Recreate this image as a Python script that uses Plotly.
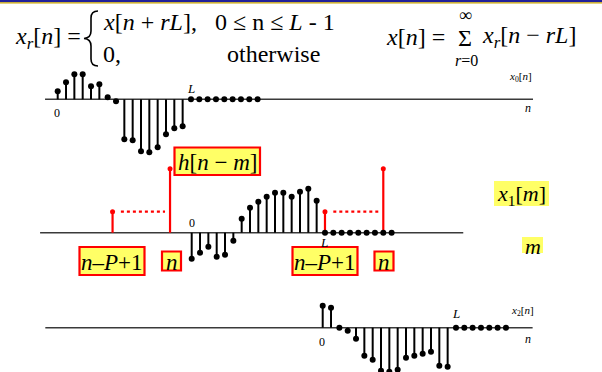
import plotly.graph_objects as go

# ---------------- data ----------------
L = 16
n_x0 = list(range(25))
x0_vals = [8, 17, 25, 25, 13, 15, 2, -2, -40, -41, -52, -53, -48, -35, -29, -27] + [0] * 9
n_x1 = list(range(25))
x1_vals = [-26, -20, -14, -24, -22, -8, 14, 25, 31, 36, 40, 40, 36, 41, 44, 32] + [0] * 9
n_x2 = list(range(23))
x2_vals = [22, 20, 0, -3, -11, -28, -32, -43, -44, -42, -30, -28, -26, -24, -38, -39] + [0] * 7
# window h[n-m]: positions (n-P+1, n) for the two placements, heights
win_left = [-9.5, -2.6]
win_right = [16, 23]
win_heights = [21, 64]

W, H = 602, 372
DX = 8.33  # px per sample
# row origins in pixel coordinates (x of n=0, y of axis)
rows = {
    2: (57.7, 99.3),
    3: (191.7, 232.7),
    4: (322.7, 327.7),
}

fig = go.Figure()
BLACK = "#000000"
RED = "#ff0000"
AX = "#3a3a3a"


def stem_traces(ns, vals, ax, color, lw=2, ms=6):
    xs, ys = [], []
    for n, v in zip(ns, vals):
        xs += [n, n, None]
        ys += [0, v, None]
    xa, ya = ("x%d" % ax, "y%d" % ax)
    fig.add_trace(go.Scatter(x=xs, y=ys, mode="lines", line=dict(color=color, width=lw),
                             xaxis=xa, yaxis=ya, hoverinfo="skip", showlegend=False))
    fig.add_trace(go.Scatter(x=ns, y=vals, mode="markers", marker=dict(color=color, size=ms),
                             xaxis=xa, yaxis=ya, hoverinfo="skip", showlegend=False))


def axis_line(ax, a, b):
    fig.add_trace(go.Scatter(x=[a, b], y=[0, 0], mode="lines", line=dict(color=AX, width=1.5),
                             xaxis="x%d" % ax, yaxis="y%d" % ax, hoverinfo="skip", showlegend=False))


# axes lines
axis_line(2, -1.52, 57.06)
axis_line(3, -18.2, 32.6)
axis_line(4, -33.3, 25.2)

# red windows in row 2
for pos in (win_left, win_right):
    stem_traces(pos, win_heights, 3, RED, lw=2.2, ms=5)
    fig.add_trace(go.Scatter(x=[pos[0] + 1.0, pos[1] - 0.6], y=[win_heights[0]] * 2, mode="lines",
                             line=dict(color=RED, width=2.2, dash="dot"),
                             xaxis="x3", yaxis="y3", hoverinfo="skip", showlegend=False))

stem_traces(n_x0, x0_vals, 2, BLACK)
stem_traces(n_x1, x1_vals, 3, BLACK)
stem_traces(n_x2, x2_vals, 4, BLACK)

# layout axes
layout = dict(
    width=W, height=H, margin=dict(l=0, r=0, t=0, b=0),
    paper_bgcolor="white", plot_bgcolor="white",
    xaxis=dict(range=[0, W], visible=False, fixedrange=True),
    yaxis=dict(range=[H, 0], visible=False, fixedrange=True),
)
for k, (ox, oy) in rows.items():
    layout["xaxis%d" % k] = dict(range=[-ox / DX, (W - ox) / DX], overlaying="x", visible=False)
    layout["yaxis%d" % k] = dict(range=[-(H - oy), oy], overlaying="y", visible=False)
fig.update_layout(**layout)

SERIF = "Liberation Serif"

# top border
fig.add_shape(type="rect", x0=0, x1=W, y0=0, y1=2.2, fillcolor="#20209a", line_width=0, layer="above")
fig.add_shape(type="rect", x0=0, x1=W, y0=2.2, y1=3.6, fillcolor="#c8a400", line_width=0, layer="above")

# curly brace of the cases equation
fig.add_shape(type="path", xref="x", yref="y",
              path="M 98 11 Q 91 11 91 18 L 91 31 Q 91 38 84 38.5 Q 91 39 91 46 L 91 59 Q 91 66 98 66",
              line=dict(color=BLACK, width=1.6))


def txt(x, y, s, size, xanchor="left", yanchor="middle", color=BLACK):
    fig.add_annotation(x=x, y=y, xref="x", yref="y", text=s, showarrow=False,
                       xanchor=xanchor, yanchor=yanchor,
                       font=dict(family=SERIF, size=size, color=color))


# equations
txt(13, 38, "<i>x</i><sub><i>r</i></sub>[<i>n</i>] =", 24)
txt(101, 22, "<i>x</i>[<i>n</i> + <i>rL</i>],", 24)
txt(337, 22, "0 ≤ n ≤ <i>L</i> - 1", 24, xanchor="right")
txt(101, 54, "0,", 24)
txt(322, 54, "otherwise", 24, xanchor="right")
txt(384, 37, "<i>x</i>[<i>n</i>] =", 24)
txt(465, 38, "Σ", 24, xanchor="center")
txt(465, 15, "∞", 18, xanchor="center")
txt(466, 60, "<i>r</i>=0", 16, xanchor="center")
txt(480, 37, "<i>x</i><sub><i>r</i></sub>[<i>n</i> − <i>rL</i>]", 24)

# small labels row 1
txt(57, 113, "0", 12, xanchor="center")
txt(191, 88, "<i>L</i>", 13, xanchor="center")
txt(520, 77, "<i>x</i><sub>0</sub>[<i>n</i>]", 11, xanchor="center")
txt(528, 108, "<i>n</i>", 12, xanchor="center")
# row 2
txt(192, 223, "0", 12, xanchor="center")
txt(324, 242, "<i>L</i>", 13, xanchor="center")
# row 3
txt(322, 342, "0", 12, xanchor="center")
txt(456, 313, "<i>L</i>", 13, xanchor="center")
txt(522, 311, "<i>x</i><sub>2</sub>[<i>n</i>]", 11, xanchor="center")
txt(528, 339, "<i>n</i>", 12, xanchor="center")

YEL = "#ffff66"


def box(x0, x1, y0, y1, s, size, border=True):
    fig.add_shape(type="rect", x0=x0, x1=x1, y0=y0, y1=y1, fillcolor=YEL,
                  line=dict(color=RED, width=2.2) if border else dict(width=0), layer="above")
    txt((x0 + x1) / 2, (y0 + y1) / 2 + 1, s, size, xanchor="center")


box(174.5, 260, 147.5, 175, "<i>h</i>[<i>n</i> − <i>m</i>]", 23)
box(494, 549, 181, 206, "<i>x</i><sub>1</sub>[<i>m</i>]", 22, border=False)
box(522, 543, 237, 253, "<i>m</i>", 22, border=False)
box(79.5, 144.5, 247, 275, "<i>n</i>–<i>P</i>+1", 23)
box(162, 181, 251.5, 270.5, "<i>n</i>", 23)
box(292.5, 357.5, 247, 275, "<i>n</i>–<i>P</i>+1", 23)
box(374.5, 393.5, 251.5, 270.5, "<i>n</i>", 23)

fig.write_html("out.html", config={"displayModeBar": False, "staticPlot": True},
               post_script="document.body.style.margin='0px';")
